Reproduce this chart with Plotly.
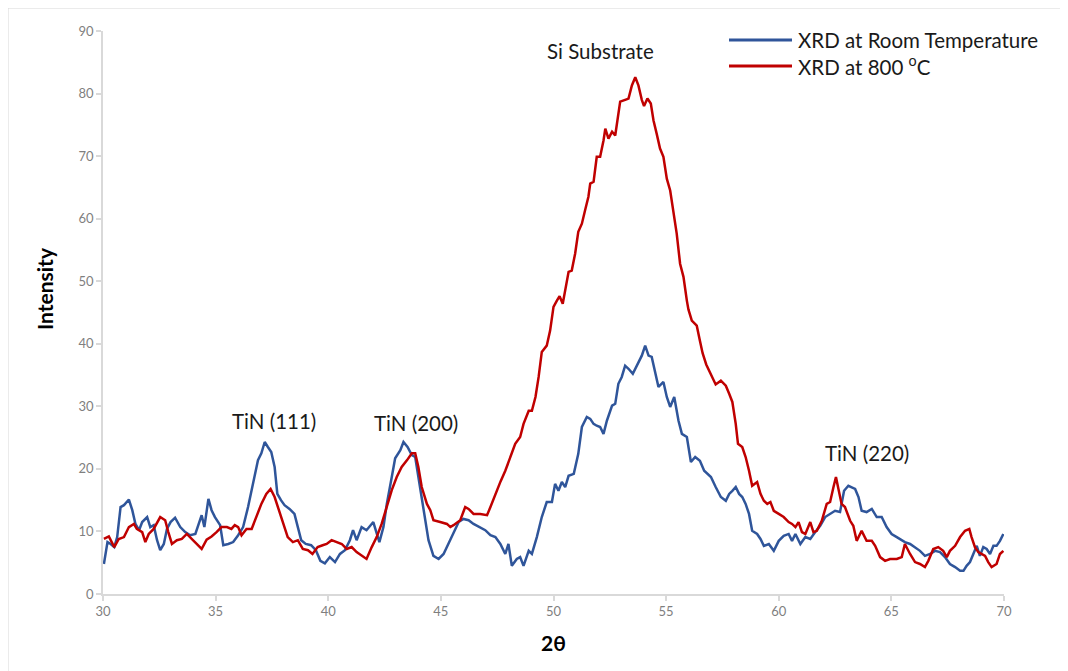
import plotly.graph_objects as go

# ---------------- data ----------------
room_2theta = [30.04, 30.2, 30.34, 30.5, 30.63, 30.78, 30.93, 31.15, 31.3, 31.44, 31.6, 31.74, 31.96, 32.1,
               32.25, 32.4, 32.54, 32.7, 32.84, 33.0, 33.2, 33.43, 33.65, 33.87, 34.1, 34.24, 34.38, 34.5,
               34.68, 34.82, 34.97, 35.2, 35.34, 35.56, 35.78, 36.0, 36.22, 36.44, 36.66, 36.88, 37.03,
               37.18, 37.32, 37.47, 37.62, 37.74, 37.9, 38.06, 38.28, 38.5, 38.65, 38.8, 39.0, 39.24, 39.45,
               39.65, 39.85, 40.07, 40.3, 40.52, 40.74, 40.96, 41.1, 41.26, 41.48, 41.7, 42.0, 42.15, 42.27,
               42.45, 42.6, 42.82, 42.97, 43.2, 43.34, 43.52, 43.71, 43.86, 44.0, 44.15, 44.3, 44.45, 44.67,
               44.9, 45.12, 45.34, 45.56, 45.79, 46.0, 46.23, 46.45, 46.75, 46.97, 47.2, 47.42, 47.64, 47.86,
               48.0, 48.15, 48.37, 48.52, 48.67, 48.9, 49.04, 49.26, 49.48, 49.7, 49.93, 50.07, 50.22, 50.37,
               50.52, 50.67, 50.9, 51.1, 51.26, 51.48, 51.63, 51.78, 51.92, 52.07, 52.22, 52.37, 52.6, 52.74,
               52.88, 53.03, 53.18, 53.33, 53.52, 53.7, 53.92, 54.07, 54.22, 54.36, 54.5, 54.66, 54.88, 55.03,
               55.18, 55.36, 55.55, 55.7, 55.92, 56.1, 56.29, 56.5, 56.69, 56.84, 56.99, 57.2, 57.43, 57.65,
               57.8, 57.94, 58.09, 58.24, 58.38, 58.53, 58.68, 58.82, 59.04, 59.19, 59.34, 59.56, 59.78, 60.0,
               60.22, 60.44, 60.59, 60.74, 60.96, 61.18, 61.4, 61.62, 61.84, 62.06, 62.28, 62.5, 62.72, 62.9,
               63.09, 63.39, 63.54, 63.68, 63.9, 64.13, 64.35, 64.57, 64.79, 65.01, 65.24, 65.38, 65.6, 65.83,
               66.05, 66.27, 66.49, 66.72, 66.94, 67.16, 67.38, 67.6, 67.83, 68.05, 68.2, 68.34, 68.49, 68.64,
               68.79, 68.93, 69.08, 69.23, 69.38, 69.53, 69.67, 69.82, 69.97]
room_intensity = [4.8, 8.3, 8.0, 7.5, 9.1, 13.9, 14.2, 15.1, 13.4, 11.2, 10.2, 11.5, 12.3, 10.7,
                  11.0, 8.6, 7.0, 8.0, 10.4, 11.5, 12.2, 10.7, 9.9, 9.4, 9.6, 11.2, 12.6, 10.7,
                  15.2, 13.4, 12.3, 11.0, 7.8, 8.0, 8.3, 9.4, 10.7, 13.9, 17.6, 21.4, 22.5,
                  24.3, 23.5, 22.7, 20.3, 16.0, 15.0, 14.2, 13.6, 12.8, 10.7, 8.6, 8.0, 7.8, 7.0,
                  5.3, 4.9, 5.9, 5.1, 6.4, 7.0, 8.6, 10.2, 8.6, 10.7, 10.2, 11.5, 9.6, 8.3,
                  10.7, 14.4, 18.7, 21.7, 23.0, 24.3, 23.5, 22.2, 21.9, 18.7, 15.0, 11.8, 8.6, 6.1,
                  5.6, 6.4, 8.0, 9.6, 11.5, 12.0, 11.8, 11.2, 10.7, 10.2, 9.4, 9.1, 8.0, 6.4,
                  8.0, 4.5, 5.6, 5.9, 4.5, 6.9, 6.4, 9.1, 12.3, 14.7, 14.7, 17.6, 16.5, 17.9,
                  17.1, 18.9, 19.2, 22.4, 26.7, 28.3, 28.0, 27.2, 26.9, 26.7, 25.6, 27.7, 30.1, 30.4,
                  33.6, 34.7, 36.5, 36.0, 35.2, 36.5, 38.1, 39.7, 38.1, 37.9, 35.7, 33.1, 33.9, 31.5,
                  29.9, 31.5, 27.7, 25.6, 25.1, 21.1, 21.9, 21.3, 19.7, 19.2, 18.7, 17.1, 15.5, 14.9,
                  16.0, 16.5, 17.1, 16.0, 15.5, 14.4, 12.8, 10.1, 9.6, 8.8, 7.7, 8.0, 6.9, 8.5,
                  9.3, 9.6, 8.5, 9.6, 8.0, 9.1, 8.8, 9.9, 10.9, 12.3, 12.8, 13.3, 13.1, 16.5,
                  17.3, 16.8, 15.5, 13.3, 13.1, 13.6, 12.3, 12.3, 10.7, 9.6, 9.1, 8.8, 8.3, 8.0,
                  7.5, 6.9, 6.1, 6.4, 6.9, 6.7, 5.9, 4.8, 4.3, 3.7, 3.7, 4.5, 5.1, 6.4,
                  7.7, 6.1, 7.5, 7.2, 6.4, 7.7, 7.7, 8.5, 9.6]

hot_2theta = [30.04, 30.26, 30.5, 30.7, 30.93, 31.15, 31.37, 31.5, 31.74, 31.88, 32.03, 32.25, 32.54, 32.76,
              32.9, 33.06, 33.28, 33.5, 33.72, 33.94, 34.16, 34.38, 34.6, 34.82, 35.04, 35.26, 35.5, 35.7,
              35.85, 36.0, 36.15, 36.37, 36.6, 36.8, 37.03, 37.25, 37.44, 37.62, 37.76, 38.0, 38.2, 38.43,
              38.65, 38.87, 39.1, 39.3, 39.53, 39.75, 39.93, 40.15, 40.37, 40.6, 40.82, 41.04, 41.26, 41.48,
              41.7, 41.93, 42.15, 42.37, 42.6, 42.82, 43.04, 43.26, 43.5, 43.71, 43.86, 44.0, 44.15, 44.38,
              44.53, 44.67, 44.97, 45.27, 45.42, 45.56, 45.86, 46.08, 46.23, 46.45, 46.75, 47.05, 47.2, 47.42,
              47.65, 47.86, 48.08, 48.3, 48.52, 48.67, 48.9, 49.04, 49.2, 49.34, 49.48, 49.7, 49.85, 50.0,
              50.15, 50.27, 50.41, 50.52, 50.67, 50.81, 50.96, 51.1, 51.26, 51.4, 51.55, 51.63, 51.78, 51.92,
              52.07, 52.22, 52.3, 52.44, 52.6, 52.74, 52.88, 52.96, 53.18, 53.33, 53.48, 53.63, 53.77, 53.92,
              54.02, 54.17, 54.32, 54.44, 54.58, 54.73, 54.88, 55.03, 55.18, 55.33, 55.47, 55.62, 55.77, 55.92,
              55.99, 56.14, 56.36, 56.5, 56.62, 56.78, 56.99, 57.2, 57.43, 57.65, 57.8, 57.94, 58.09, 58.19,
              58.38, 58.53, 58.68, 58.82, 59.04, 59.19, 59.34, 59.49, 59.63, 59.78, 60.0, 60.22, 60.44, 60.59,
              60.74, 60.88, 61.03, 61.18, 61.4, 61.54, 61.69, 61.91, 62.13, 62.28, 62.43, 62.54, 62.65, 62.79,
              62.94, 63.09, 63.17, 63.31, 63.46, 63.68, 63.9, 64.13, 64.28, 64.5, 64.72, 64.94, 65.24, 65.46,
              65.6, 65.83, 66.05, 66.27, 66.49, 66.64, 66.86, 67.08, 67.3, 67.46, 67.6, 67.83, 68.05, 68.27,
              68.46, 68.56, 68.71, 68.86, 69.0, 69.16, 69.3, 69.45, 69.67, 69.82, 69.97]
hot_intensity = [8.8, 9.2, 7.5, 8.8, 9.1, 10.7, 11.2, 10.4, 9.9, 8.3, 9.6, 10.4, 12.3, 11.8,
                 9.9, 8.0, 8.6, 8.8, 9.6, 8.8, 8.0, 7.2, 8.7, 9.2, 9.9, 10.7, 10.7, 10.4,
                 11.0, 10.7, 9.4, 10.4, 10.4, 12.3, 14.4, 16.0, 16.8, 15.5, 13.9, 11.2, 9.1, 8.3,
                 8.6, 7.2, 7.0, 6.4, 7.5, 7.8, 8.0, 8.6, 8.3, 8.0, 7.2, 7.5, 6.7, 6.1,
                 5.6, 7.5, 9.1, 11.2, 13.9, 16.6, 18.7, 20.3, 21.4, 22.5, 22.5, 20.3, 17.1, 14.4,
                 13.4, 11.8, 11.5, 11.2, 10.7, 11.0, 11.8, 13.9, 13.6, 12.8, 12.8, 12.6, 13.9, 16.0,
                 18.0, 19.7, 21.9, 24.0, 25.1, 27.2, 29.3, 29.3, 31.5, 34.7, 38.7, 39.7, 42.1, 45.9,
                 46.9, 47.6, 46.4, 48.5, 51.5, 51.7, 54.4, 57.9, 59.2, 61.3, 63.5, 65.6, 65.9, 69.9,
                 69.9, 72.5, 74.4, 72.8, 73.9, 73.3, 76.3, 78.7, 79.0, 79.2, 81.3, 82.6, 81.3, 79.0,
                 78.0, 79.2, 78.4, 75.7, 73.6, 71.2, 69.9, 66.4, 64.5, 60.8, 57.6, 52.8, 50.7, 46.9,
                 45.5, 43.7, 42.9, 40.5, 38.5, 36.7, 35.2, 33.5, 34.1, 33.3, 32.0, 30.7, 27.2, 24.0,
                 23.5, 21.9, 19.7, 17.3, 17.9, 16.0, 14.9, 14.4, 14.7, 13.3, 12.8, 12.3, 11.5, 11.2,
                 10.7, 11.5, 9.9, 9.6, 11.5, 9.9, 10.1, 11.7, 14.4, 14.7, 17.1, 18.7, 16.8, 14.4,
                 13.9, 12.3, 11.7, 10.9, 8.5, 10.1, 8.5, 8.5, 7.7, 5.9, 5.3, 5.6, 5.6, 5.9,
                 8.0, 6.4, 5.1, 4.8, 4.3, 5.3, 7.2, 7.5, 6.9, 5.9, 6.9, 7.7, 9.1, 10.1,
                 10.4, 9.1, 7.5, 6.7, 6.4, 6.1, 5.1, 4.3, 4.8, 6.4, 6.9]

series_names = ["XRD at Room Temperature", "XRD at 800 <sup>o</sup>C"]
peak_labels = ["Si Substrate", "TiN (111)", "TiN (200)", "TiN (220)"]
peak_label_x = [52.1, 37.6, 43.9, 63.9]
peak_label_y = [86.8, 27.7, 27.3, 22.5]

x_ticks = [30, 35, 40, 45, 50, 55, 60, 65, 70]
y_ticks = [0, 10, 20, 30, 40, 50, 60, 70, 80, 90]

# ---------------- styling ----------------
BLUE = "#2F559A"
RED = "#C00000"
FONT = "Lato"
TEXT = "#1a1a1a"
AXIS = "#D9D9D9"
TICKTXT = "#7F7F7F"

fig = go.Figure()
fig.add_trace(go.Scatter(x=room_2theta, y=room_intensity, mode="lines", name=series_names[0],
                         line=dict(color=BLUE, width=2.5), showlegend=False))
fig.add_trace(go.Scatter(x=hot_2theta, y=hot_intensity, mode="lines", name=series_names[1],
                         line=dict(color=RED, width=2.5), showlegend=False))

# peak labels
for txt, px, py in zip(peak_labels, peak_label_x, peak_label_y):
    fig.add_annotation(x=px, y=py, xref="x", yref="y", text=txt, showarrow=False,
                       font=dict(family=FONT, size=20.5, color=TEXT), xanchor="center", yanchor="middle")

# manual legend (line swatches + labels)
legend_y = [0.984, 0.938]
for name, col, ly in zip(series_names, [BLUE, RED], legend_y):
    fig.add_shape(type="line", xref="paper", yref="paper", x0=0.6948, x1=0.7647, y0=ly, y1=ly,
                  line=dict(color=col, width=3))
    fig.add_annotation(x=0.7692, y=ly, xref="paper", yref="paper", text=name, showarrow=False,
                       xanchor="left", yanchor="middle", font=dict(family=FONT, size=20.5, color=TEXT))

# y-axis title placed as in the reference (slightly above centre)
fig.add_annotation(x=-0.0655, y=0.5435, xref="paper", yref="paper", text="<b>Intensity</b>",
                   textangle=-90, showarrow=False, xanchor="center", yanchor="middle",
                   font=dict(family=FONT, size=21, color="black"))

# chart-area border
fig.add_shape(type="rect", xref="paper", yref="paper", x0=-0.1054, x1=1.09, y0=-0.16, y1=1.0408,
              line=dict(color=AXIS, width=1), fillcolor="rgba(0,0,0,0)", layer="below")

fig.update_layout(
    width=1068, height=671,
    margin=dict(l=95, r=72, t=23, b=85),
    paper_bgcolor="white", plot_bgcolor="white",
    font=dict(family=FONT, color=TEXT),
    xaxis=dict(range=[30, 70], tickvals=x_ticks, showgrid=False, zeroline=False,
               showline=True, linecolor=AXIS, linewidth=1.5, ticks="outside", ticklen=5,
               tickcolor=AXIS, tickwidth=1.5, tickfont=dict(family=FONT, size=13, color=TICKTXT),
               title=dict(text="<b>2θ</b>", font=dict(family=FONT, size=21, color="black"), standoff=18)),
    yaxis=dict(range=[0, 90], tickvals=y_ticks, showgrid=False, zeroline=False,
               showline=True, linecolor=AXIS, linewidth=1.5, ticks="outside", ticklen=5,
               tickcolor=AXIS, tickwidth=1.5, tickfont=dict(family=FONT, size=13, color=TICKTXT)),
)

fig.write_html("out.html")
